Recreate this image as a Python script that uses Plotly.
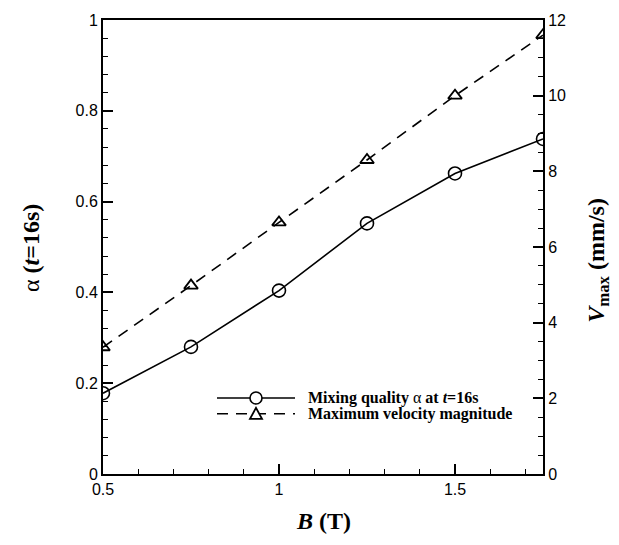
import plotly.graph_objects as go

B = [0.5, 0.75, 1.0, 1.25, 1.5, 1.75]
alpha = [0.178, 0.28, 0.404, 0.552, 0.662, 0.738]
vmax = [3.35, 4.98, 6.65, 8.30, 10.0, 11.6]

x_ticks = [0.5, 1, 1.5]
x_ticktext = ["0.5", "1", "1.5"]
y_ticks = [0, 0.2, 0.4, 0.6, 0.8, 1]
y_ticktext = ["0", "0.2", "0.4", "0.6", "0.8", "1"]
y2_ticks = [0, 2, 4, 6, 8, 10, 12]
y2_ticktext = ["0", "2", "4", "6", "8", "10", "12"]

legend_names = [
    "<b>Mixing quality </b>α<b> at </b><b><i>t</i></b><b>=16s</b>",
    "<b>Maximum velocity magnitude</b>",
]

TICKFONT = dict(family="Liberation Sans, Arial", size=16, color="black")
SERIF = "Liberation Serif, Times New Roman"

fig = go.Figure()
fig.add_trace(go.Scatter(
    x=B, y=alpha, mode="lines+markers", yaxis="y",
    line=dict(color="black", width=1.6),
    marker=dict(symbol="circle-open", size=13, color="black", line=dict(width=1.6)),
    showlegend=False,
))
fig.add_trace(go.Scatter(
    x=B, y=vmax, mode="lines+markers", yaxis="y2",
    line=dict(color="black", width=1.6, dash="11px,8px"),
    marker=dict(symbol="triangle-up-open", size=12, color="black", line=dict(width=1.8)),
    showlegend=False,
))

W, H = 619, 545
L, R, T, Bm = 103, 76, 14, 71

axis_common = dict(
    showgrid=False, zeroline=False, showline=True, linecolor="black", linewidth=2,
    ticks="inside", ticklen=10, tickwidth=2, tickcolor="black", tickfont=TICKFONT,
)

fig.update_layout(
    width=W, height=H,
    margin=dict(l=L, r=R, t=T, b=Bm),
    paper_bgcolor="white", plot_bgcolor="white",
    xaxis=dict(range=[0.5, 1.75], tickvals=x_ticks, ticktext=x_ticktext, mirror=True,
               minor=dict(ticks="inside", ticklen=5, tickwidth=1, tickcolor="black", dtick=0.1, tick0=0.5),
               **axis_common),
    yaxis=dict(range=[0, 1], tickvals=y_ticks, ticktext=y_ticktext,
               minor=dict(ticks="inside", ticklen=5, tickwidth=1, tickcolor="black", dtick=0.04, tick0=0),
               **axis_common),
    yaxis2=dict(range=[0, 12], tickvals=y2_ticks, ticktext=y2_ticktext, overlaying="y", side="right",
                minor=dict(ticks="inside", ticklen=5, tickwidth=1, tickcolor="black", dtick=0.5, tick0=0),
                **axis_common),
    showlegend=False,
)

def px_x(px):
    return (px - L) / (W - L - R)

def px_y(py):
    return (H - Bm - py) / (H - T - Bm)

# Axis titles
fig.add_annotation(x=px_x(31), y=px_y(245), xref="paper", yref="paper", showarrow=False,
                   xanchor="center", yanchor="middle",
                   text="α <b>(<i>t</i>=16s)</b>", textangle=-90,
                   font=dict(family=SERIF, size=24, color="black"))
fig.add_annotation(x=px_x(598), y=px_y(258), xref="paper", yref="paper", showarrow=False,
                   xanchor="center", yanchor="middle",
                   text="<b><i>V</i><sub>max</sub> (mm/s)</b>", textangle=-90,
                   font=dict(family=SERIF, size=24, color="black"))
fig.add_annotation(x=px_x(323), y=px_y(522), xref="paper", yref="paper", showarrow=False,
                   xanchor="center", yanchor="middle",
                   text="<b><i>B</i> (T)</b>",
                   font=dict(family=SERIF, size=24, color="black"))

# Manual legend
rows = [397, 413]
for i, py in enumerate(rows):
    yp = px_y(py)
    fig.add_shape(type="line", xref="paper", yref="paper", x0=px_x(217), x1=px_x(295), y0=yp, y1=yp,
                  line=dict(color="black", width=1.6, dash="solid" if i == 0 else "11px,8px"))
    if i == 0:
        fig.add_shape(type="circle", xref="paper", yref="paper", xsizemode="pixel", ysizemode="pixel",
                      xanchor=px_x(256), yanchor=yp, x0=-6, x1=6, y0=-6, y1=6,
                      line=dict(color="black", width=1.6), fillcolor="white")
    else:
        fig.add_shape(type="path", xref="paper", yref="paper", xsizemode="pixel", ysizemode="pixel",
                      xanchor=px_x(256), yanchor=yp, path="M -6 -5 L 6 -5 L 0 6 Z",
                      line=dict(color="black", width=1.8), fillcolor="white")
    fig.add_annotation(x=px_x(306), y=yp, xref="paper", yref="paper", showarrow=False,
                       xanchor="left", yanchor="middle", text=legend_names[i],
                       font=dict(family=SERIF, size=16, color="black"))

fig.write_html("out.html")
